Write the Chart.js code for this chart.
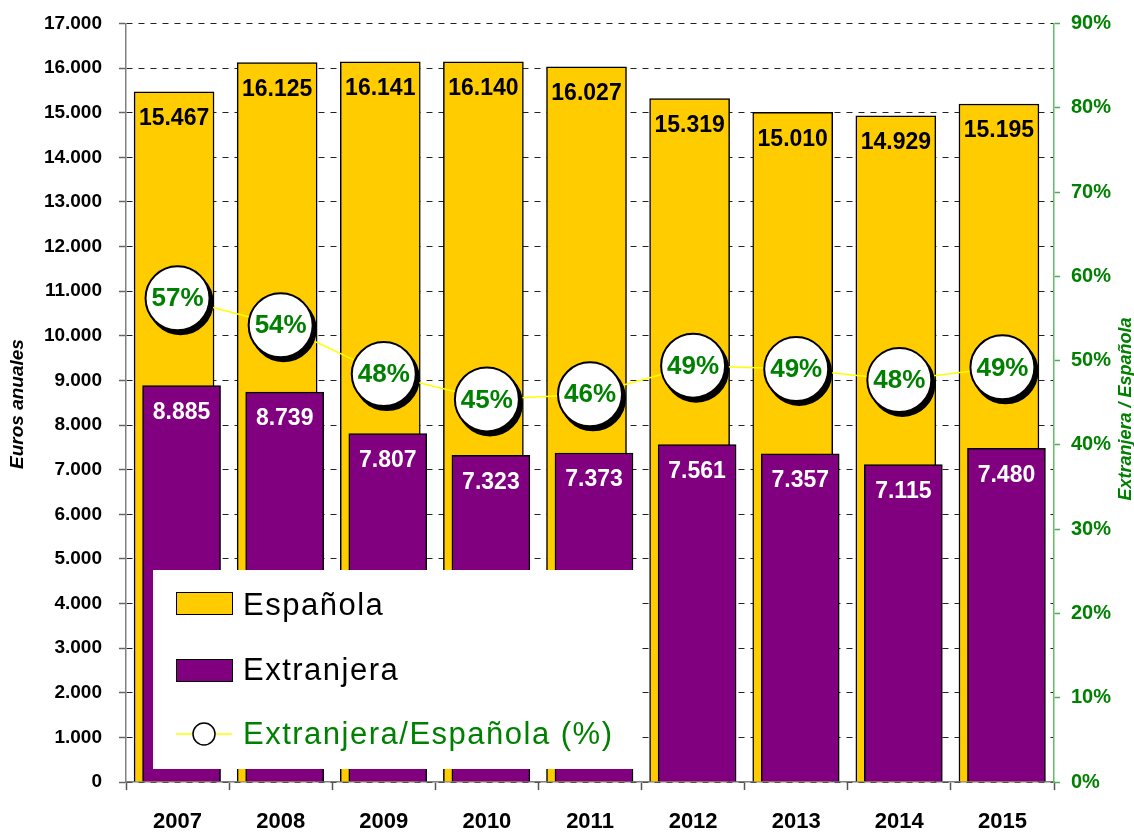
<!DOCTYPE html>
<html>
<head>
<meta charset="utf-8">
<script src="https://cdn.jsdelivr.net/npm/chart.js@4/dist/chart.umd.min.js"></script>
<style>
  html, body { margin: 0; padding: 0; background: #ffffff; }
  #wrap { width: 1134px; height: 832px; }
</style>
</head>
<body>
<div id="wrap"><canvas id="c" width="1134" height="832"></canvas></div>
<script>
// ---- data ----
const years = ['2007','2008','2009','2010','2011','2012','2013','2014','2015'];
const espanola = [15467, 16125, 16141, 16140, 16027, 15319, 15010, 14929, 15195];
const extranjera = [8885, 8739, 7807, 7323, 7373, 7561, 7357, 7115, 7480];
const ratioPct = [57.4, 54.2, 48.4, 45.4, 46.0, 49.4, 49.0, 47.7, 49.2];
const ratioLabels = ['57%','54%','48%','45%','46%','49%','49%','48%','49%'];
const leftTicksMax = 17000;
const rightTicksMax = 90;

const YELLOW = '#FFCC00';
const PURPLE = '#800080';
const GREEN = '#008000';
const LINEYELLOW = '#FFFF00';
const FONT = '"Liberation Sans", Arial, Helvetica, sans-serif';

function fmt(v) {
  return String(Math.round(v)).replace(/\B(?=(\d{3})+(?!\d))/g, '.');
}

// per-dataset drawing offsets (style only): bars side shift, marker shadow
const drawShift = {0: [-3.5, 0], 1: [4, 0], 3: [3, 4]};

const shiftPlugin = {
  id: 'shiftPlugin',
  beforeDatasetDraw(chart, args) {
    const s = drawShift[args.index];
    if (s) {
      chart.ctx.save();
      chart.ctx.translate(s[0], s[1]);
    }
  },
  afterDatasetDraw(chart, args) {
    if (drawShift[args.index]) chart.ctx.restore();
  }
};

const labelPlugin = {
  id: 'labelPlugin',
  afterDatasetsDraw(chart) {
    const ctx = chart.ctx;
    ctx.save();
    ctx.textAlign = 'center';
    ctx.textBaseline = 'middle';
    // bar labels
    [[0, '#000000', espanola], [1, '#FFFFFF', extranjera]].forEach(([di, col, arr]) => {
      const meta = chart.getDatasetMeta(di);
      ctx.fillStyle = col;
      ctx.font = 'bold 23px ' + FONT;
      meta.data.forEach((el, i) => {
        ctx.fillText(fmt(arr[i]), el.x + drawShift[di][0], el.y + 27);
      });
    });
    // circle labels
    const pm = chart.getDatasetMeta(4);
    ctx.fillStyle = GREEN;
    ctx.font = 'bold 26px ' + FONT;
    pm.data.forEach((el, i) => {
      ctx.fillText(ratioLabels[i], el.x, el.y + 1);
    });
    ctx.restore();
  }
};

const decorPlugin = {
  id: 'decorPlugin',
  afterDraw(chart) {
    const ctx = chart.ctx;
    ctx.save();
    // axis titles
    ctx.textAlign = 'center';
    ctx.textBaseline = 'middle';
    ctx.fillStyle = '#000000';
    ctx.font = 'italic bold 19px ' + FONT;
    ctx.save();
    ctx.translate(18, 404);
    ctx.rotate(-Math.PI / 2);
    ctx.fillText('Euros anuales', 0, 0);
    ctx.restore();
    ctx.fillStyle = GREEN;
    ctx.font = 'italic bold 18px ' + FONT;
    ctx.save();
    ctx.translate(1126, 409);
    ctx.rotate(-Math.PI / 2);
    ctx.fillText('Extranjera / Española', 0, 0);
    ctx.restore();

    // legend box
    ctx.fillStyle = '#FFFFFF';
    ctx.fillRect(153, 570, 484, 199);
    const ds = chart.data.datasets;
    ctx.textAlign = 'left';
    ctx.font = '31px ' + FONT;
    try { ctx.letterSpacing = '1.5px'; } catch (e) {}
    // row 1
    ctx.fillStyle = ds[0].backgroundColor;
    ctx.fillRect(176, 592, 56, 22);
    ctx.lineWidth = 1;
    ctx.strokeStyle = '#000000';
    ctx.strokeRect(176.5, 592.5, 56, 22);
    ctx.fillStyle = '#000000';
    ctx.fillText(ds[0].label, 243, 606);
    // row 2
    ctx.fillStyle = ds[1].backgroundColor;
    ctx.fillRect(176, 659, 56, 22);
    ctx.strokeRect(176.5, 659.5, 56, 22);
    ctx.fillStyle = '#000000';
    ctx.fillText(ds[1].label, 243, 671);
    // row 3
    ctx.strokeStyle = LINEYELLOW;
    ctx.lineWidth = 1.5;
    ctx.beginPath();
    ctx.moveTo(176, 734);
    ctx.lineTo(232, 734);
    ctx.stroke();
    ctx.beginPath();
    ctx.arc(204, 734, 11, 0, Math.PI * 2);
    ctx.fillStyle = '#FFFFFF';
    ctx.fill();
    ctx.strokeStyle = '#000000';
    ctx.lineWidth = 1.5;
    ctx.stroke();
    ctx.fillStyle = GREEN;
    ctx.fillText(ds[2].label, 243, 735);
    ctx.restore();
  }
};

new Chart(document.getElementById('c'), {
  data: {
    labels: years,
    datasets: [
      {
        type: 'bar', label: 'Española', data: espanola,
        backgroundColor: YELLOW, borderColor: '#000000', borderWidth: 1.5,
        barThickness: 80, grouped: false, order: 5, yAxisID: 'y'
      },
      {
        type: 'bar', label: 'Extranjera', data: extranjera,
        backgroundColor: PURPLE, borderColor: '#000000', borderWidth: 1.5,
        barThickness: 78, grouped: false, order: 4, yAxisID: 'y'
      },
      {
        type: 'line', label: 'Extranjera/Española (%)', data: ratioPct,
        borderColor: LINEYELLOW, borderWidth: 1.5, pointRadius: 0, fill: false,
        tension: 0, order: 3, yAxisID: 'y1'
      },
      {
        type: 'line', label: 'shadow', data: ratioPct, showLine: false,
        pointRadius: 32, pointBackgroundColor: '#000000', pointBorderColor: '#000000',
        pointBorderWidth: 2, order: 2, yAxisID: 'y1', clip: false
      },
      {
        type: 'line', label: 'points', data: ratioPct, showLine: false,
        pointRadius: 32, pointBackgroundColor: '#FFFFFF', pointBorderColor: '#000000',
        pointBorderWidth: 2, order: 1, yAxisID: 'y1', clip: false
      }
    ]
  },
  options: {
    responsive: false,
    animation: false,
    events: [],
    layout: { autoPadding: false, padding: { top: 23.5, left: 0, right: 0, bottom: 0 } },
    plugins: { legend: { display: false }, tooltip: { enabled: false } },
    scales: {
      x: {
        type: 'category',
        offset: true,
        grid: { display: true, drawOnChartArea: false, offset: true, tickLength: 8, tickColor: '#555555', tickWidth: 1.5 },
        border: { display: true, color: '#808080', width: 1.5 },
        ticks: { color: '#000000', font: { family: FONT, size: 22, weight: 'bold' }, padding: 19, maxRotation: 0 },
        afterFit(s) { s.height = 50; s.paddingLeft = 0; s.paddingRight = 0; }
      },
      y: {
        position: 'left',
        min: 0, max: leftTicksMax,
        ticks: { stepSize: 1000, color: '#000000', font: { family: FONT, size: 19, weight: 'bold' }, padding: 17, callback: (v) => fmt(v) },
        grid: { color: '#222222', lineWidth: 1, tickLength: 7, tickColor: '#666666', tickWidth: 1.5, tickBorderDash: [] },
        border: { display: true, color: '#808080', width: 1.5, dash: [6, 6] },
        afterFit(s) { s.width = 126; s.paddingTop = 0; s.paddingBottom = 0; }
      },
      y1: {
        position: 'right',
        min: 0, max: rightTicksMax,
        ticks: { stepSize: 10, color: GREEN, font: { family: FONT, size: 20, weight: 'bold' }, padding: 11, callback: (v) => v + '%' },
        grid: { drawOnChartArea: false, tickLength: 6, tickColor: '#4CAF50', tickWidth: 1.5 },
        border: { display: true, color: '#66BB66', width: 1.5 },
        afterFit(s) { s.width = 80; s.paddingTop = 0; s.paddingBottom = 0; }
      }
    }
  },
  plugins: [shiftPlugin, labelPlugin, decorPlugin]
});
</script>
</body>
</html>
